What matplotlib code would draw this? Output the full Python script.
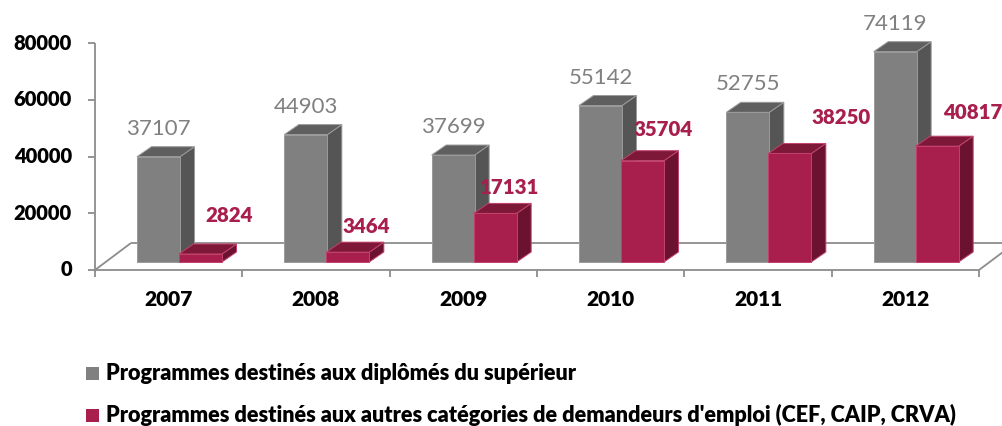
import matplotlib.pyplot as plt
from matplotlib.patches import Polygon, Rectangle

plt.rcParams['font.family'] = ['Lato', 'DejaVu Sans']

years = ['2007', '2008', '2009', '2010', '2011', '2012']
diplomes = [37107, 44903, 37699, 55142, 52755, 74119]
autres = [2824, 3464, 17131, 35704, 38250, 40817]
y_ticks = [0, 20000, 40000, 60000, 80000]
legend_labels = [
    'Programmes destinés aux diplômés du supérieur',
    "Programmes destinés aux autres catégories de demandeurs d'emploi (CEF, CAIP, CRVA)",
]

# nudges (pixels) for the red value labels
red_label_shift = [(29, 38), (18, 26), (15, 26), (21, 31), (51, 36), (36, 34)]

GREY = ('#808080', '#555555', '#5f5f5f', '#9a9a9a')
RED = ('#a81e4c', '#6b1230', '#7e1838', '#c2426c')
AXIS_COL = '#8c8c8c'
BOLD = 'heavy'

W, H = 1003, 426
fig = plt.figure(figsize=(W / 100, H / 100), dpi=100)
# x axis runs from px 95 to 979, value 0 sits at px 270, 80000 at px 43
x_left, x_right, y_zero, y_top = 95, 979, 270, 43
ax = fig.add_axes([x_left / W, (H - y_zero) / H, (x_right - x_left) / W, (y_zero - y_top) / H])
ax.set_xlim(-0.5, 5.5)
ax.set_ylim(0, 80000)
ax.axis('off')

cat_px = (x_right - x_left) / len(years)
val_px = (y_zero - y_top) / 80000.0


def px2x(p):
    return p / cat_px


def px2y(p):
    return p / val_px


# depth of the boxes and of the floor
bar_dx, bar_dy = px2x(14.5), px2y(10)
floor_dx, floor_dy = px2x(36), px2y(27)
bar_base = px2y(8)
bar_w = px2x(43)


def bar3d(x0, value, colors, z):
    front, side, top, edge = colors
    x1 = x0 + bar_w
    y0 = bar_base
    y1 = bar_base + value
    kw = dict(ec=edge, lw=0.7, clip_on=False, zorder=z, joinstyle='miter')
    ax.add_patch(Polygon([(x1, y0), (x1 + bar_dx, y0 + bar_dy), (x1 + bar_dx, y1 + bar_dy), (x1, y1)],
                         fc=side, **kw))
    ax.add_patch(Polygon([(x0, y1), (x1, y1), (x1 + bar_dx, y1 + bar_dy), (x0 + bar_dx, y1 + bar_dy)],
                         fc=top, **kw))
    ax.add_patch(Polygon([(x0, y0), (x1, y0), (x1, y1), (x0, y1)], fc=front, **kw))
    return x0 + bar_w / 2, y1


# floor outline
line_kw = dict(color=AXIS_COL, lw=1.3, clip_on=False, zorder=1, solid_capstyle='butt')
ax.plot([-0.5, 5.5], [0, 0], **line_kw)
ax.plot([-0.5, -0.5 + floor_dx], [0, floor_dy], **line_kw)
ax.plot([5.5, 5.5 + floor_dx], [0, floor_dy], **line_kw)
ax.plot([-0.5 + floor_dx, 5.5 + floor_dx * 2], [floor_dy, floor_dy], **line_kw)

# value axis
ax.plot([-0.5, -0.5], [px2y(-2), 80000], **line_kw)
for t in y_ticks:
    ax.plot([-0.5 - px2x(7), -0.5], [t, t], **line_kw)
    ax.annotate(str(t), (-0.5, t), xytext=(-23, 0), textcoords='offset pixels',
                ha='right', va='center', fontsize=14.5, fontweight=BOLD, color='black')

# category axis ticks and labels
for i in range(len(years) + 1):
    ax.plot([i - 0.5, i - 0.5], [0, px2y(-7)], **line_kw)
for i, yr in enumerate(years):
    ax.annotate(yr, (i, 0), xytext=(0, -30), textcoords='offset pixels',
                ha='center', va='center', fontsize=15, fontweight=BOLD, color='black')

# bars and value labels
for i in range(len(years)):
    gx = i - 0.5 + px2x(42)
    cx, cy = bar3d(gx, diplomes[i], GREY, 10 + 2 * i)
    ax.annotate(str(diplomes[i]), (cx, cy), xytext=(0, 28), textcoords='offset pixels',
                ha='center', va='center', fontsize=16, color='#808080', zorder=30)
    rx = gx + px2x(42)
    cx, cy = bar3d(rx, autres[i], RED, 11 + 2 * i)
    sx, sy = red_label_shift[i]
    ax.annotate(str(autres[i]), (cx, cy), xytext=(sx, sy), textcoords='offset pixels',
                ha='center', va='center', fontsize=14.8, fontweight=BOLD, color='#a81e4c', zorder=30)

# legend
for k, (label, col) in enumerate(zip(legend_labels, [GREY[0], RED[0]])):
    yc = 373 + 42 * k
    fig.patches.append(Rectangle((86 / W, (H - yc - 6.5) / H), 13 / W, 13 / H,
                                 transform=fig.transFigure, fc=col, ec='none'))
    fig.text(106 / W, (H - yc) / H, label, ha='left', va='center',
             fontsize=15.6, fontweight=BOLD, color='black')

fig.savefig('out.png', dpi=100)
